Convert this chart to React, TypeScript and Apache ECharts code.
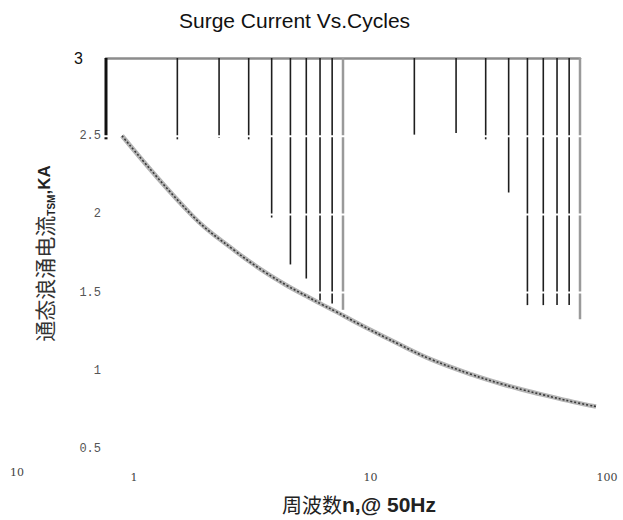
import React, { useEffect, useRef } from "react";
import * as echarts from "echarts";

// Surge current curve (cycles at 50 Hz -> kA)
const cycles = [1, 2, 3, 4, 5, 6, 7, 8, 10, 15, 20, 30, 40, 50, 60, 80, 100];
const surgeKA = [2.5, 1.98, 1.76, 1.625, 1.535, 1.47, 1.415, 1.37, 1.29, 1.155, 1.065, 0.965, 0.905, 0.865, 0.835, 0.79, 0.76];

// Vertical (log) grid lines and the value where each visible line stops
const gridCycles = [1, 2, 3, 4, 5, 6, 7, 8, 9, 10, 20, 30, 40, 50, 60, 70, 80, 90, 100];
const gridLineEnds = [2.48, 2.48, 2.49, 2.48, 1.98, 1.68, 1.59, 1.45, 1.43, 1.39, 2.51, 2.52, 2.48, 2.14, 1.42, 1.42, 1.42, 1.42, 1.33];

// Horizontal white gridlines cutting through the vertical lines
const whiteBreaks = [2.5, 2, 1.5];

// Axis ticks
const yMin = 0.5;
const yMax = 3;
const yStep = 0.5;
const xMin = 1;
const xMax = 100;
const strayXLabel = "10";

const title = "Surge Current Vs.Cycles";
const xName = ["周波数", "n,@ 50Hz"];
const yName = ["通态浪涌电流", "TSM", ",KA"];

export default function App() {
  const ref = useRef<HTMLDivElement>(null);
  useEffect(() => {
    if (!ref.current) return;
    const chart = echarts.init(ref.current, null, { renderer: "svg" });
    const hiddenAxis = {
      axisLine: { show: false },
      axisTick: { show: false },
      axisLabel: { show: false },
      splitLine: { show: false },
    };
    const option: any = {
      animation: false,
      backgroundColor: "#ffffff",
      title: {
        text: title,
        left: 174,
        top: 5,
        textStyle: { fontFamily: "Liberation Sans", fontSize: 21, fontWeight: "normal", color: "#111" },
      },
      grid: [
        { left: 106, top: 58, width: 474, height: 391 },
        { left: 122, top: 58, width: 474, height: 391 },
        { left: 134, top: 58, width: 473, height: 391 },
      ],
      xAxis: [
        {
          gridIndex: 0, type: "log", logBase: 10, min: xMin, max: xMax, position: "top",
          axisLine: { show: true, lineStyle: { color: "#8c8c8c", width: 2.5 } },
          axisTick: { show: false }, axisLabel: { show: false }, splitLine: { show: false },
        },
        {
          gridIndex: 1, type: "log", logBase: 10, min: xMin, max: xMax,
          ...hiddenAxis,
          name: "{a|" + xName[0] + "}{b|" + xName[1] + "}",
          nameLocation: "middle",
          nameGap: 47,
          nameTextStyle: {
            rich: {
              a: { fontFamily: "Noto Sans CJK SC", fontSize: 20, color: "#222" },
              b: { fontFamily: "Liberation Sans", fontSize: 21, fontWeight: "bold", color: "#222" },
            },
          },
        },
        {
          gridIndex: 2, type: "log", logBase: 10, min: xMin, max: xMax,
          axisLine: { show: false }, axisTick: { show: false }, splitLine: { show: false },
          axisLabel: {
            show: true, margin: 23,
            fontFamily: "DejaVu Serif", fontSize: 11, color: "#444",
            showMinLabel: true, showMaxLabel: true,
          },
        },
      ],
      yAxis: [
        {
          gridIndex: 0, type: "value", min: yMin, max: yMax, interval: yStep,
          axisLine: { show: false }, axisTick: { show: false }, splitLine: { show: false },
          axisLabel: {
            show: true, margin: 5,
            formatter: (v: number) => (v === yMax ? "{big|" + v + "}" : "{s|" + v + "}"),
            rich: {
              big: { fontFamily: "Liberation Sans", fontSize: 16, color: "#111", padding: [0, 18, 0, 0] },
              s: { fontFamily: "Liberation Mono", fontSize: 12, color: "#555" },
            },
          },
          name: "{a|" + yName[0] + "}{sub|" + yName[1] + "}{b|" + yName[2] + "}",
          nameLocation: "middle",
          nameRotate: 90,
          nameGap: 50,
          nameTextStyle: {
            rich: {
              a: { fontFamily: "Noto Sans CJK SC", fontSize: 21, color: "#333", lineHeight: 24, verticalAlign: "middle" },
              sub: { fontFamily: "Liberation Sans", fontSize: 10, fontWeight: "bold", color: "#222", lineHeight: 24, verticalAlign: "bottom" },
              b: { fontFamily: "Liberation Sans", fontSize: 17, fontWeight: "bold", color: "#222", lineHeight: 24, verticalAlign: "middle" },
            },
          },
        },
        { gridIndex: 1, type: "value", min: yMin, max: yMax, interval: yStep, ...hiddenAxis },
        { gridIndex: 2, type: "value", min: yMin, max: yMax, interval: yStep, ...hiddenAxis },
      ],
      graphic: [
        {
          type: "text", left: 10, top: 467,
          style: { text: strayXLabel, fontFamily: "DejaVu Serif", fontSize: 11, fill: "#444" },
        },
      ],
      series: [
        {
          type: "custom",
          xAxisIndex: 0, yAxisIndex: 0,
          z: 2,
          data: gridCycles.map((n, i) => [n, gridLineEnds[i]]),
          encode: { x: 0, y: 1 },
          renderItem: (_p: any, api: any) => {
            const n = api.value(0);
            const end = api.value(1);
            const a = api.coord([n, yMax]);
            const b = api.coord([n, end]);
            const first = n === xMin;
            const major = n === 10 || n === xMax;
            return {
              type: "line",
              shape: { x1: a[0], y1: a[1], x2: b[0], y2: b[1] },
              style: {
                stroke: first ? "#111" : major ? "#9a9a9a" : "#1e1e1e",
                lineWidth: first ? 3 : major ? 2.5 : 1.6,
              },
            };
          },
        },
        {
          type: "custom",
          xAxisIndex: 0, yAxisIndex: 0,
          z: 3,
          data: whiteBreaks.map((v) => [xMin, v]),
          encode: { x: 0, y: 1 },
          renderItem: (_p: any, api: any) => {
            const v = api.value(1);
            const a = api.coord([xMin, v]);
            const b = api.coord([xMax, v]);
            return {
              type: "line",
              shape: { x1: a[0] - 3, y1: a[1], x2: b[0] + 3, y2: b[1] },
              style: { stroke: "#ffffff", lineWidth: 2 },
            };
          },
        },
        {
          type: "line",
          xAxisIndex: 1, yAxisIndex: 1,
          z: 4,
          smooth: 0.4,
          showSymbol: false,
          data: cycles.map((n, i) => [n, surgeKA[i]]),
          lineStyle: { color: "#b5b5b5", width: 4.5 },
        },
        {
          type: "line",
          xAxisIndex: 1, yAxisIndex: 1,
          z: 5,
          smooth: 0.4,
          showSymbol: false,
          data: cycles.map((n, i) => [n, surgeKA[i]]),
          lineStyle: { color: "#3a3a3a", width: 1.6, type: [2, 2] },
        },
      ],
    };
    chart.setOption(option);
    return () => chart.dispose();
  }, []);
  return <div ref={ref} style={{ position: "fixed", left: 0, top: 0, width: 623, height: 520 }} />;
}
